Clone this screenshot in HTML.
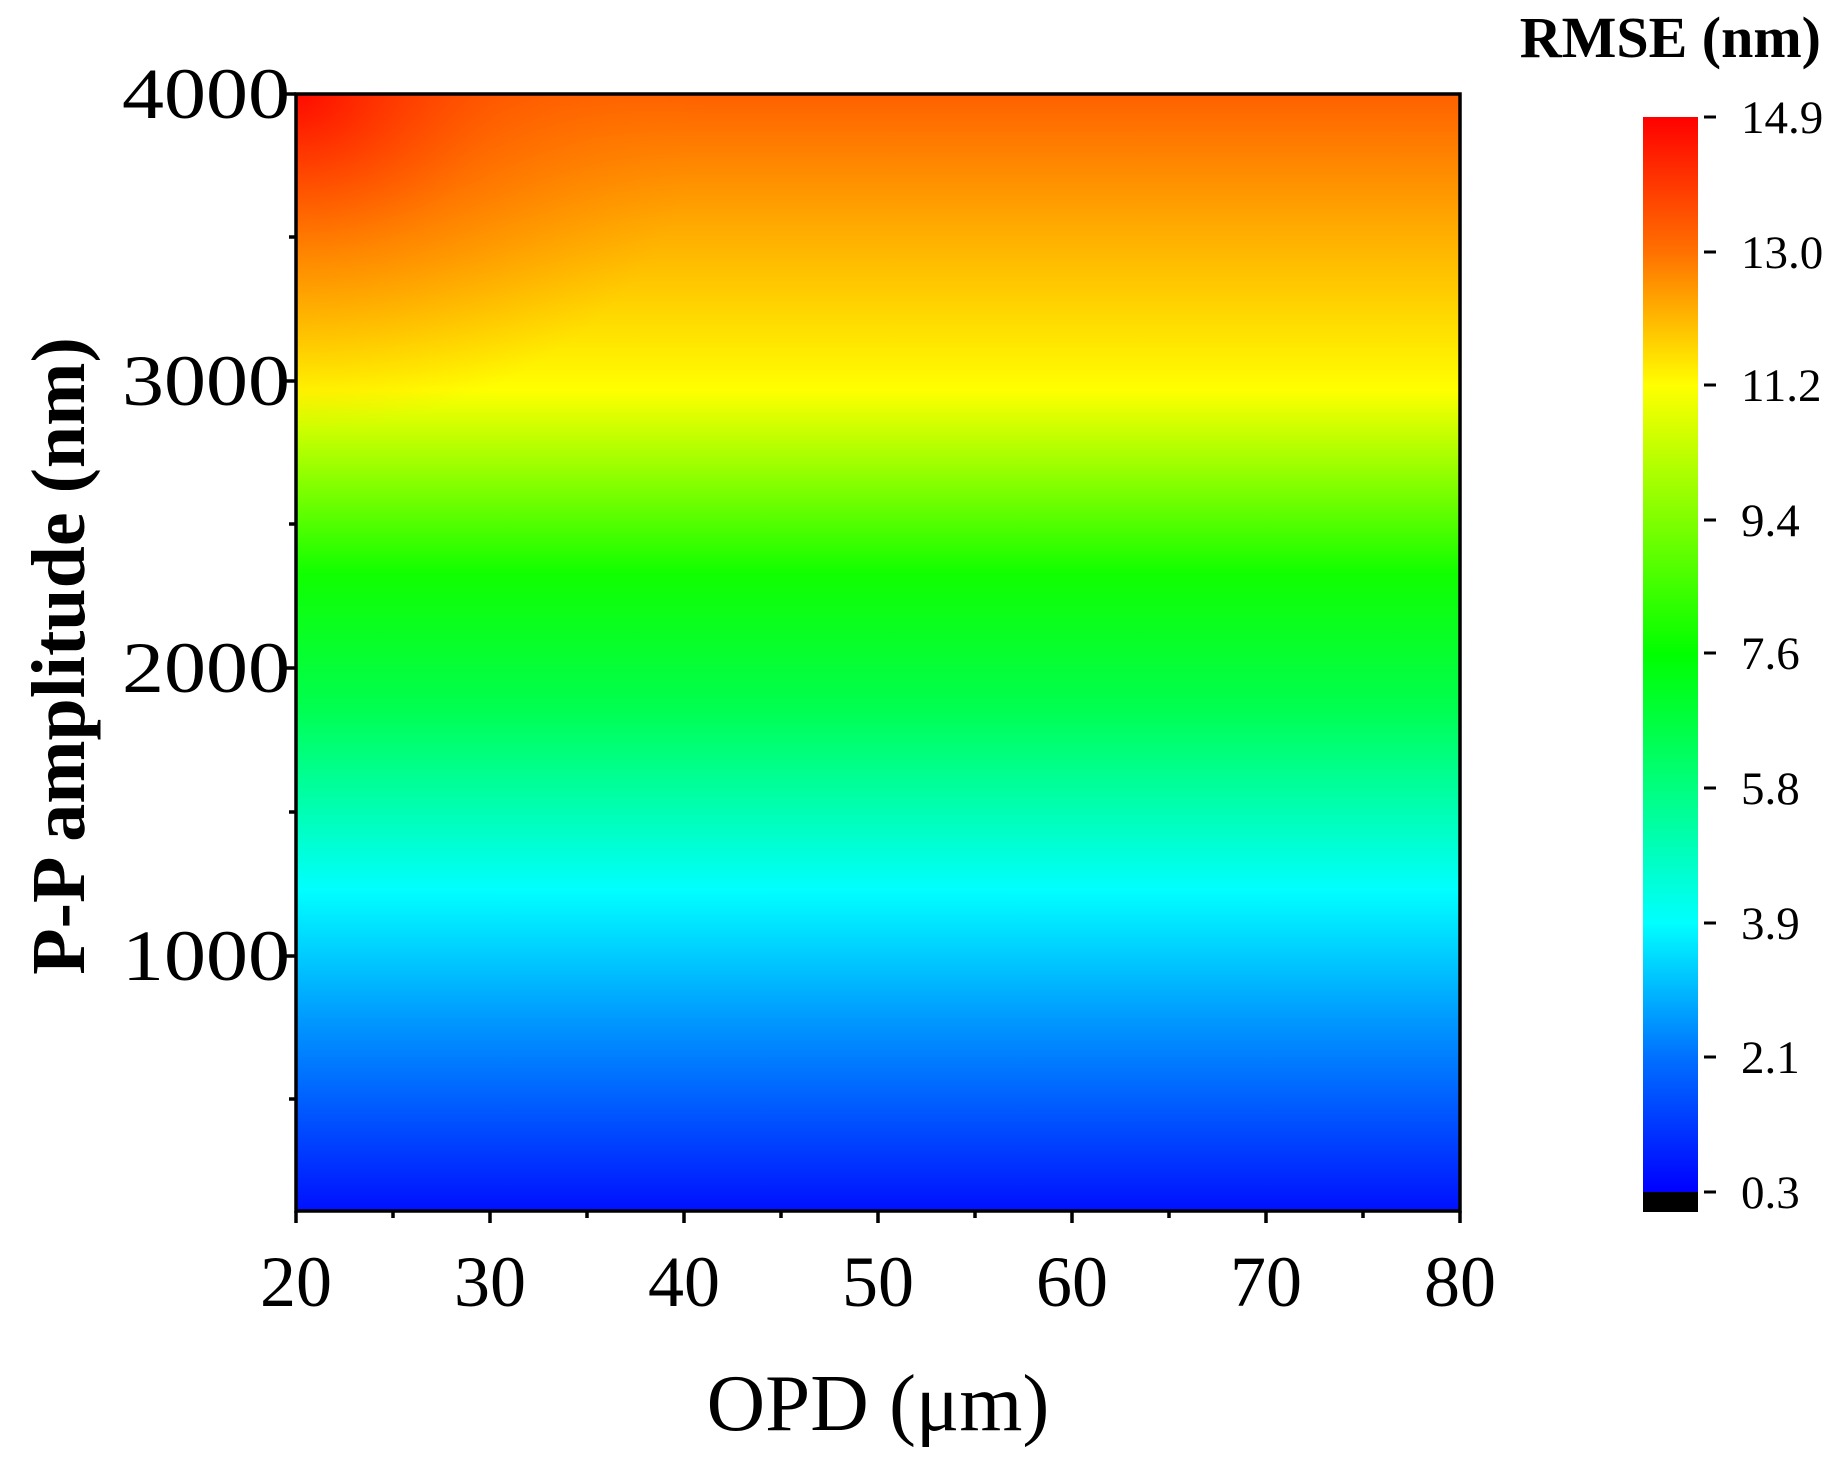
<!DOCTYPE html>
<html><head><meta charset="utf-8"><style>html,body{margin:0;padding:0;background:#fff}svg{display:block}</style></head>
<body>
<svg width="1836" height="1460" viewBox="0 0 1836 1460" xmlns="http://www.w3.org/2000/svg" font-family="Liberation Serif, serif">
<defs>
<linearGradient id="pg" x1="0" y1="0" x2="0" y2="1">
<stop offset="0" stop-color="#ff6000"/>
<stop offset="0.115" stop-color="#ffa800"/>
<stop offset="0.265" stop-color="#ffff00"/>
<stop offset="0.43" stop-color="#10ff00"/>
<stop offset="0.55" stop-color="#00ff50"/>
<stop offset="0.713" stop-color="#00ffff"/>
<stop offset="0.83" stop-color="#0098ff"/>
<stop offset="1" stop-color="#0010ff"/>
</linearGradient>
<radialGradient id="rg" cx="0" cy="0" r="1" gradientUnits="objectBoundingBox" gradientTransform="scale(0.35,0.3)">
<stop offset="0" stop-color="#ff0000" stop-opacity="0.9"/>
<stop offset="0.5" stop-color="#ff5000" stop-opacity="0.45"/>
<stop offset="1" stop-color="#ff8000" stop-opacity="0"/>
</radialGradient>
<linearGradient id="cg" x1="0" y1="0" x2="0" y2="1">
<stop offset="0" stop-color="#ff0000"/>
<stop offset="0.125" stop-color="#ff7000"/>
<stop offset="0.25" stop-color="#ffff00"/>
<stop offset="0.5" stop-color="#00ff00"/>
<stop offset="0.75" stop-color="#00ffff"/>
<stop offset="0.875" stop-color="#0070ff"/>
<stop offset="1" stop-color="#0000ff"/>
</linearGradient>
</defs>
<rect x="296" y="94" width="1164" height="1117" fill="url(#pg)"/>
<rect x="296" y="94" width="1164" height="1117" fill="url(#rg)"/>
<rect x="296" y="94" width="1164" height="1117" fill="none" stroke="#000" stroke-width="3.5"/>
<g stroke="#000" stroke-width="3.5">
<line x1="284" y1="94" x2="296" y2="94"/><line x1="284" y1="381" x2="296" y2="381"/><line x1="284" y1="668" x2="296" y2="668"/><line x1="284" y1="956" x2="296" y2="956"/>
<line x1="289" y1="237" x2="296" y2="237"/><line x1="289" y1="524" x2="296" y2="524"/><line x1="289" y1="812" x2="296" y2="812"/><line x1="289" y1="1099" x2="296" y2="1099"/>
<line x1="296" y1="1211" x2="296" y2="1223"/><line x1="490" y1="1211" x2="490" y2="1223"/><line x1="684" y1="1211" x2="684" y2="1223"/><line x1="878" y1="1211" x2="878" y2="1223"/><line x1="1072" y1="1211" x2="1072" y2="1223"/><line x1="1266" y1="1211" x2="1266" y2="1223"/><line x1="1460" y1="1211" x2="1460" y2="1223"/>
<line x1="393" y1="1211" x2="393" y2="1218"/><line x1="587" y1="1211" x2="587" y2="1218"/><line x1="781" y1="1211" x2="781" y2="1218"/><line x1="975" y1="1211" x2="975" y2="1218"/><line x1="1169" y1="1211" x2="1169" y2="1218"/><line x1="1363" y1="1211" x2="1363" y2="1218"/>
</g>
<g font-size="72" text-anchor="end">
<text x="290" y="118" textLength="168" lengthAdjust="spacingAndGlyphs">4000</text><text x="290" y="405" textLength="168" lengthAdjust="spacingAndGlyphs">3000</text><text x="290" y="692" textLength="168" lengthAdjust="spacingAndGlyphs">2000</text><text x="290" y="980" textLength="168" lengthAdjust="spacingAndGlyphs">1000</text>
</g>
<g font-size="72" text-anchor="middle">
<text x="296" y="1306">20</text><text x="490" y="1306">30</text><text x="684" y="1306">40</text><text x="878" y="1306">50</text><text x="1072" y="1306">60</text><text x="1266" y="1306">70</text><text x="1460" y="1306">80</text>
</g>
<text x="878" y="1430" font-size="81" text-anchor="middle">OPD (μm)</text>
<text transform="translate(84,656) rotate(-90)" font-size="76" font-weight="bold" text-anchor="middle">P-P amplitude (nm)</text>
<text x="1821" y="57" font-size="58" font-weight="bold" text-anchor="end">RMSE (nm)</text>
<rect x="1643" y="117" width="55" height="1075" fill="url(#cg)"/>
<rect x="1643" y="1192" width="55" height="20" fill="#000"/>
<g stroke="#000" stroke-width="3">
<line x1="1704" y1="117" x2="1716" y2="117"/><line x1="1704" y1="252" x2="1716" y2="252"/><line x1="1704" y1="385" x2="1716" y2="385"/><line x1="1704" y1="520" x2="1716" y2="520"/><line x1="1704" y1="653" x2="1716" y2="653"/><line x1="1704" y1="788" x2="1716" y2="788"/><line x1="1704" y1="923" x2="1716" y2="923"/><line x1="1704" y1="1057" x2="1716" y2="1057"/><line x1="1704" y1="1192" x2="1716" y2="1192"/>
</g>
<g font-size="47">
<text x="1741" y="133">14.9</text><text x="1741" y="268">13.0</text><text x="1741" y="401">11.2</text><text x="1741" y="536">9.4</text><text x="1741" y="669">7.6</text><text x="1741" y="804">5.8</text><text x="1741" y="939">3.9</text><text x="1741" y="1073">2.1</text><text x="1741" y="1208">0.3</text>
</g>
</svg>
</body></html>
